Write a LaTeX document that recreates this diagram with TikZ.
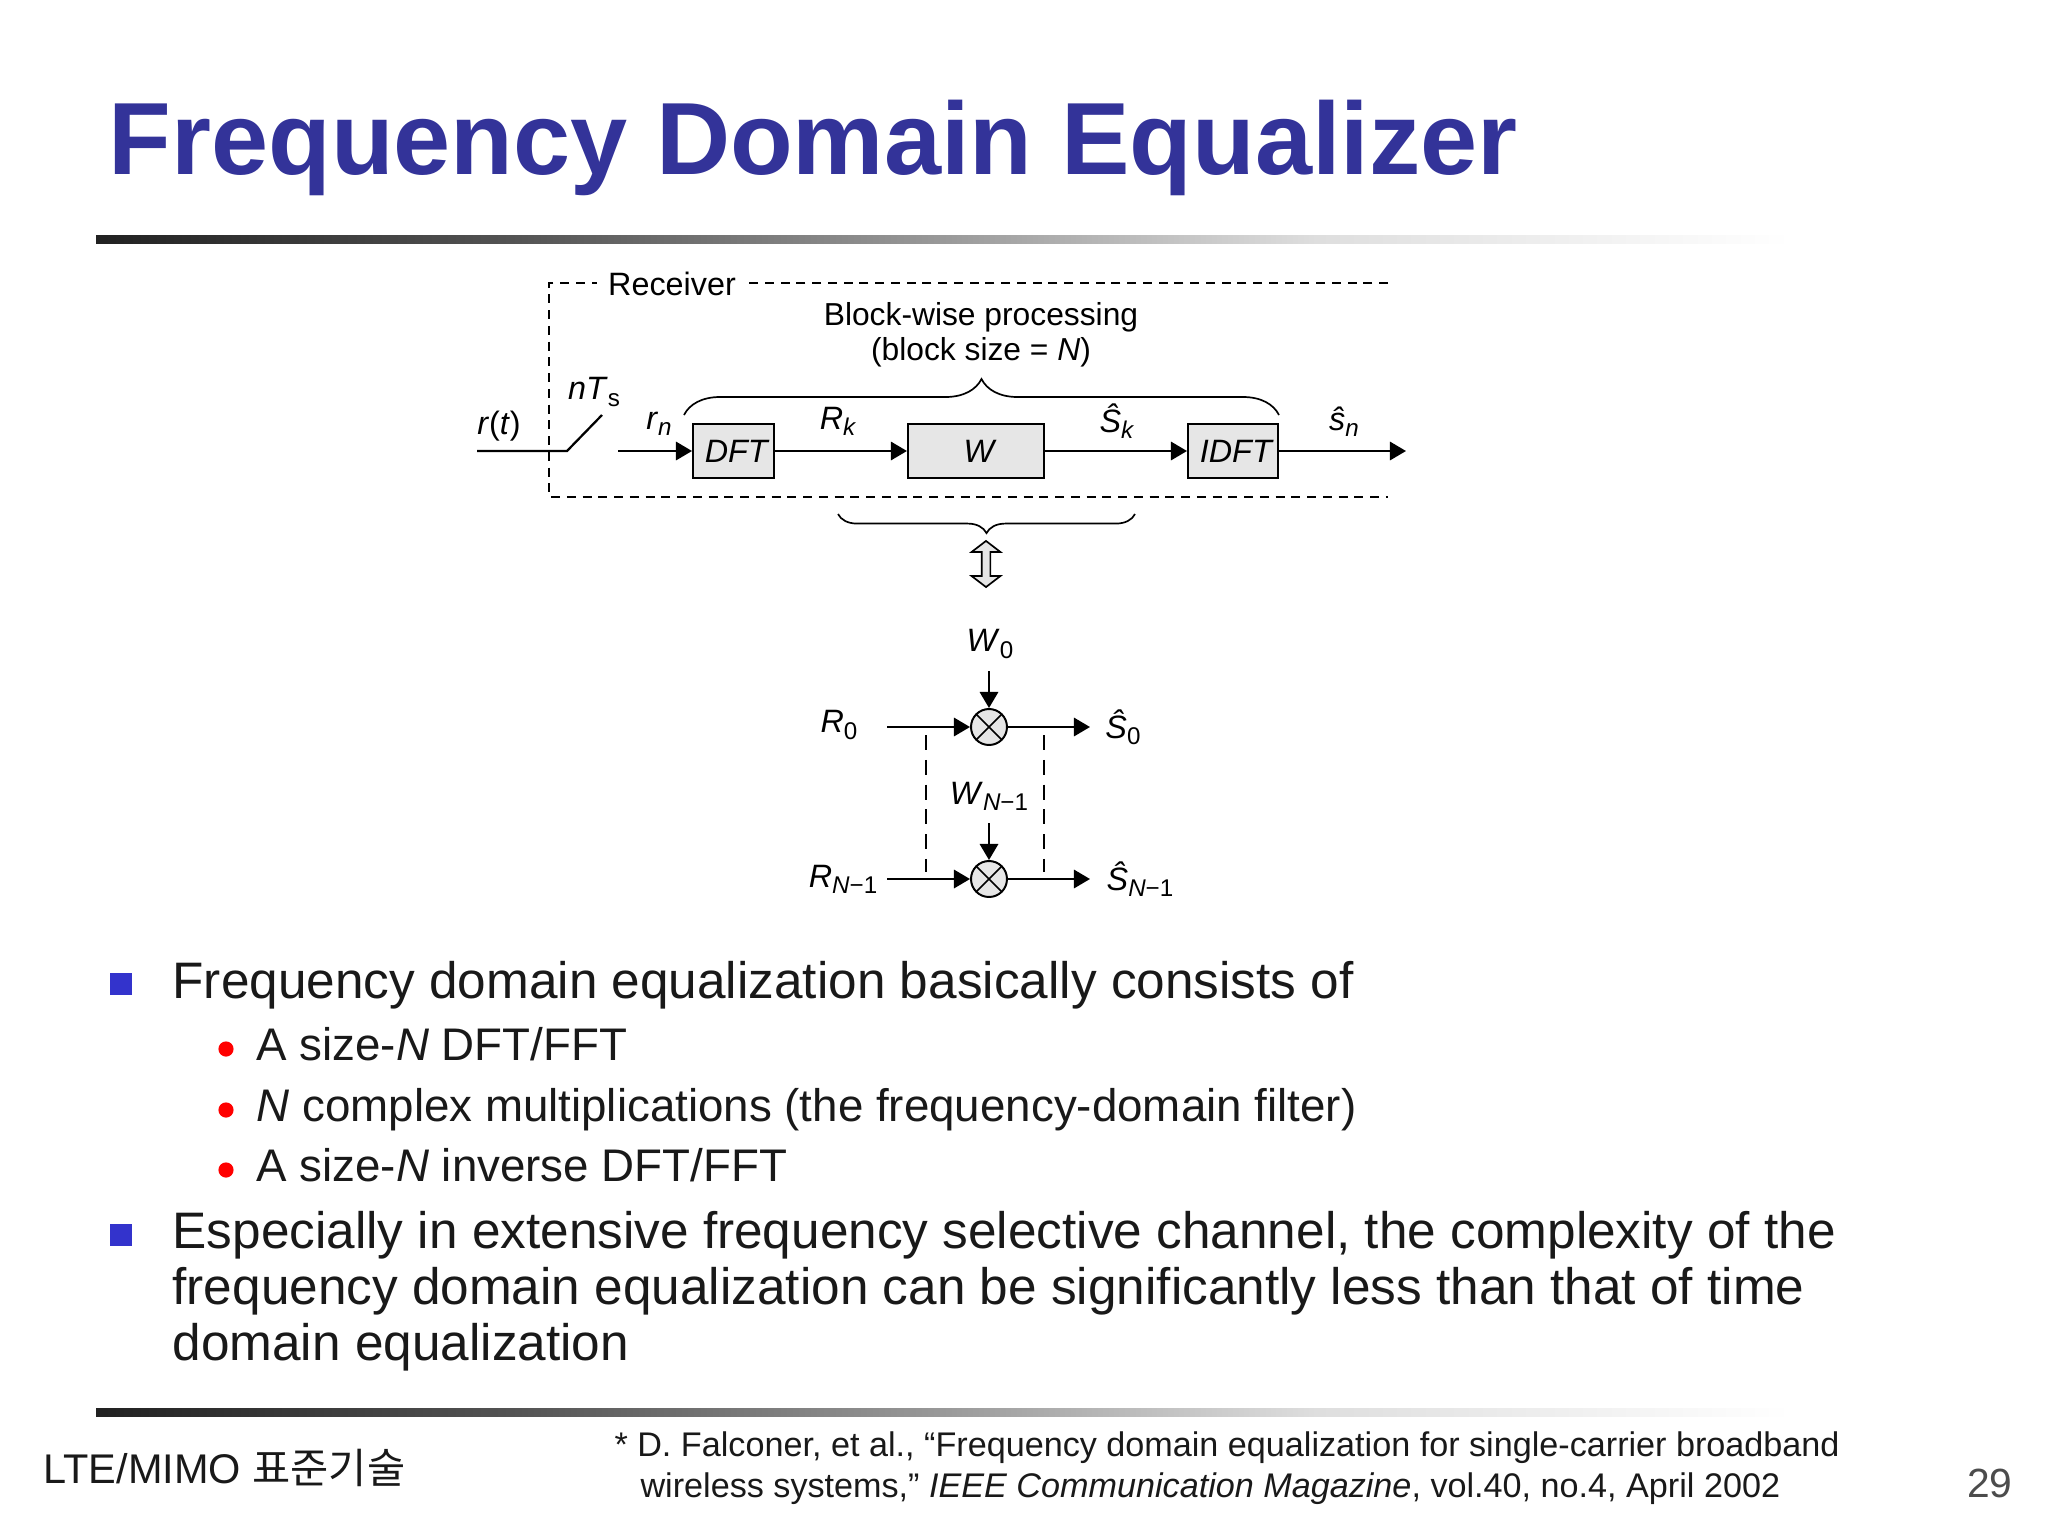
\documentclass[tikz,border=0pt]{standalone}
\usepackage{fontspec}
\setmainfont{Liberation Sans}
\newfontfamily\cjk{Noto Sans CJK KR}
\usetikzlibrary{arrows.meta,decorations.pathreplacing,shapes.arrows}
\definecolor{titleblue}{HTML}{333399}
\definecolor{squareblue}{HTML}{3333CC}
\definecolor{boxgray}{HTML}{E6E6E6}
\newcommand{\fsz}[1]{\fontsize{#1}{#1}\selectfont}
\newcommand{\sgn}[2]{\textit{#1}\raisebox{-2.2pt}{\fsz{8.6}#2}}
\pgfdeclarehorizontalshading{rulefade}{100bp}{
  color(0bp)=(black!87); color(25bp)=(black!87); color(37.5bp)=(black!67);
  color(50bp)=(black!40); color(61bp)=(black!13); color(75bp)=(white); color(100bp)=(white)}
\tikzset{
  wire/.style={line width=0.8pt,-{Triangle[length=5.7pt,width=6.5pt]}},
  plain/.style={line width=0.8pt},
  block/.style={draw,line width=0.7pt,fill=boxgray,minimum height=19.2pt,inner sep=0pt,font=\fsz{11.5}\itshape,
    execute at begin node=\hspace{2pt}},
  mixer/.style={circle,draw,line width=0.7pt,fill=boxgray,minimum size=12.8pt,inner sep=0pt,
    path picture={\draw[line width=0.6pt] (path picture bounding box.north west)--(path picture bounding box.south east)
      (path picture bounding box.north east)--(path picture bounding box.south west);}},
  lbl/.style={font=\fsz{11.5},inner sep=0pt},
  head/.style={anchor=base west,inner sep=0pt,font=\fsz{18.25},text=black!90},
  subhead/.style={anchor=base west,inner sep=0pt,font=\fsz{16.25},text=black!90},
  note/.style={anchor=base west,inner sep=0pt,font=\fsz{12.15},text=black!90},
  square/.style={fill=squareblue,minimum size=7.8pt,inner sep=0pt},
  dot/.style={circle,fill=red,minimum size=5.4pt,inner sep=0pt},
  rule/.style={shading=rulefade,draw=none}
}
\begin{document}
\begin{tikzpicture}[x=0.0125cm,y=-0.0125cm]
\useasboundingbox (0,0) rectangle (2048,1531);
%Title
\node[anchor=base west,inner sep=0pt,font=\fsz{36.5}\bfseries,text=titleblue] (title) at (108,174) {Frequency Domain Equalizer};
\shade[rule] (96,235) rectangle (1790,243);
\shade[rule] (96,1408) rectangle (1790,1416);
%Receiver frame
\draw[line width=0.6pt,dash pattern=on 3.2pt off 2.4pt] (1388,283)--(549,283)--(549,497)--(1388,497);
\node[lbl,fill=white,inner xsep=4pt,inner ysep=1pt] (receiver) at (672,284) {Receiver};
\node[lbl,font=\fsz{11.3}] (blockwise) at (981,317) {Block-wise processing};
\node[lbl,font=\fsz{11.3}] (blocksize) at (981,352) {(block size = \textit{N})};
%Top row
\node[block,minimum width=28.8pt] (dft) at (733.5,451) {DFT};
\node[block,minimum width=48.4pt] (wbox) at (976,451) {W};
\node[block,minimum width=32pt] (idft) at (1233,451) {IDFT};
\coordinate (rin) at (477,451);
\coordinate (swa) at (567,451);
\coordinate (swb) at (602,415);
\coordinate (rnin) at (618,451);
\coordinate (snout) at (1406,451);
\draw[plain] (rin)--(swa)--(swb);
\draw[wire] (rnin)--(dft);
\draw[wire] (dft)--(wbox);
\draw[wire] (wbox)--(idft);
\draw[wire] (idft)--(snout);
\node[lbl] (rt) at (499,426) {\textit{r}(\textit{t})};
\node[lbl] (nts) at (594,392) {\sgn{nT}{s}};
\node[lbl] (rn) at (659,424) {\sgn{r}{\textit{n}}};
\node[lbl] (rk) at (838,421) {\sgn{R}{\textit{k}}};
\node[lbl] (sk) at (1117,421) {\sgn{Ŝ}{\textit{k}}};
\node[lbl] (shn) at (1344,422) {\sgn{ŝ}{\textit{n}}};
%Braces
\coordinate (bta) at (684,415);
\coordinate (btb) at (1279,415);
\coordinate (bba) at (838,514);
\coordinate (bbb) at (1135,514);
\draw[line width=0.6pt,decorate,decoration={brace,amplitude=12.8pt}] (bta)--(btb);
\draw[line width=0.6pt,decorate,decoration={brace,mirror,amplitude=6.8pt}] (bba)--(bbb);
\node[double arrow,draw,line width=0.6pt,fill=boxgray,rotate=90,minimum height=16.4pt,minimum width=10.3pt,
  double arrow head extend=0.7pt,double arrow tip angle=105,inner sep=0pt] (updown) at (986,564) {};
%Mixers
\node[mixer] (mixa) at (989,727) {};
\node[mixer] (mixb) at (989,879) {};
\coordinate (ra) at (887,727);
\coordinate (rb) at (887,879);
\coordinate (sa) at (1090,727);
\coordinate (sb) at (1090,879);
\coordinate (wa) at (989,671);
\coordinate (wb) at (989,823);
\draw[wire] (ra)--(mixa);
\draw[wire] (rb)--(mixb);
\draw[wire] (mixa)--(sa);
\draw[wire] (mixb)--(sb);
\draw[wire] (wa)--(mixa);
\draw[wire] (wb)--(mixb);
\coordinate (dla) at (926,735);
\coordinate (dlb) at (926,872);
\coordinate (dra) at (1044,735);
\coordinate (drb) at (1044,872);
\draw[line width=0.6pt,dash pattern=on 5.4pt off 3.4pt] (dla)--(dlb) (dra)--(drb);
\node[lbl] (wzero) at (990,644) {\sgn{W}{0}};
\node[lbl] (wlast) at (989,796) {\sgn{W}{\textit{N}−1}};
\node[lbl] (rzero) at (839,725) {\sgn{R}{0}};
\node[lbl] (rlast) at (843,879) {\sgn{R}{\textit{N}−1}};
\node[lbl] (szero) at (1123,727) {\sgn{Ŝ}{0}};
\node[lbl] (slast) at (1140,879) {\sgn{Ŝ}{\textit{N}−1}};
%Bullets
\node[square] (sqa) at (121,984) {};
\node[square] (sqb) at (121,1235) {};
\node[dot] (dota) at (226,1049) {};
\node[dot] (dotb) at (226,1110) {};
\node[dot] (dotc) at (226,1170) {};
\node[head] (la) at (172,998) {Frequency domain equalization basically consists of};
\node[subhead] (lb) at (256,1060) {A size-\textit{N} DFT/FFT};
\node[subhead] (lc) at (256,1121) {\textit{N} complex multiplications (the frequency-domain filter)};
\node[subhead] (ld) at (256,1181) {A size-\textit{N} inverse DFT/FFT};
\node[head] (le) at (172,1248) {Especially in extensive frequency selective channel, the complexity of the};
\node[head] (lf) at (172,1304) {frequency domain equalization can be significantly less than that of time};
\node[head] (lg) at (172,1360) {domain equalization};
%Footer
\node[note,font=\fsz{14.75}] (foot) at (43,1483) {LTE/MIMO {\cjk 표준기술}};
\node[note] (refa) at (614,1456) {* D. Falconer, et al., “Frequency domain equalization for single-carrier broadband};
\node[note] (refb) at (640,1497) {wireless systems,” \textit{IEEE Communication Magazine}, vol.40, no.4, April 2002};
\node[note,font=\fsz{14.5},text=black!70,anchor=base east] (page) at (2013,1497) {29};
\end{tikzpicture}
\end{document}
